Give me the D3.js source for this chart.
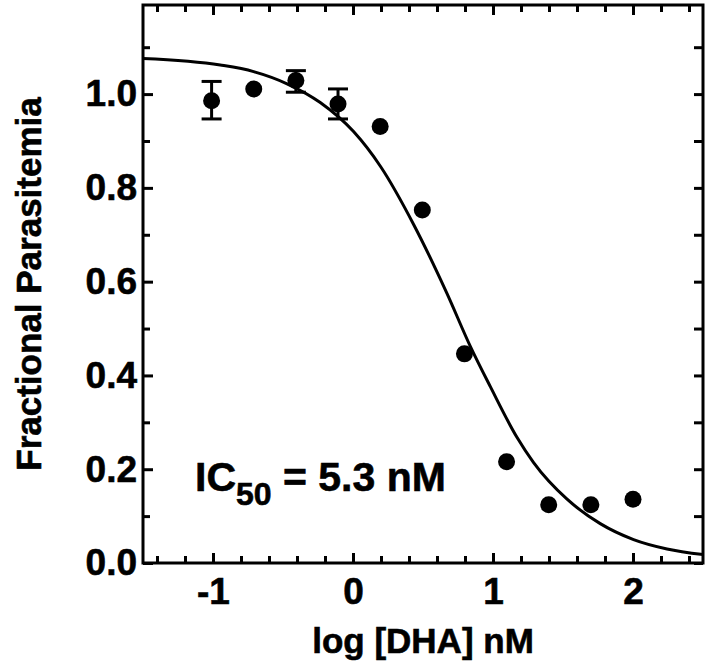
<!DOCTYPE html>
<html>
<head>
<meta charset="utf-8">
<script src="https://d3js.org/d3.v7.min.js"></script>
<style>
  body { margin: 0; background: #fff; }
  text { font-family: "Liberation Sans", Arial, sans-serif; font-weight: bold; fill: #000; stroke: #000; stroke-width: 0.6px; }
</style>
</head>
<body>
<script>
// measured points: log concentration vs fractional parasitemia
var logConc = [-1.01, -0.709, -0.408, -0.107, 0.194, 0.495, 0.796, 1.097, 1.398, 1.699, 2.0];
var parasitemia = [0.986, 1.011, 1.029, 0.979, 0.931, 0.753, 0.446, 0.216, 0.124, 0.124, 0.136];
// error bars (only some points have them), null = none
var errLow  = [0.947, null, 1.004, 0.947, null, null, null, null, null, null, null];
var errHigh = [1.027, null, 1.050, 1.011, null, null, null, null, null, null, null];

// fitted dose-response curve
var curveX = [-1.5, -0.948, -0.71, -0.471, -0.234, 0.004, 0.198, 0.433, 0.671, 0.838,
              0.981, 1.171, 1.29, 1.529, 1.766, 2.004, 2.243, 2.5];
var curveY = [1.076, 1.062, 1.048, 1.022, 0.982, 0.920, 0.845, 0.722, 0.575, 0.462,
              0.376, 0.268, 0.214, 0.136, 0.084, 0.050, 0.030, 0.018];

var xMajor = [-1, 0, 1, 2];
var yMajor = [0, 0.2, 0.4, 0.6, 0.8, 1.0];

var width = 707, height = 664;
var margin = {top: 5, right: 4, bottom: 101, left: 143};

var svg = d3.select("body").append("svg")
  .attr("width", width).attr("height", height);

var x = d3.scaleLinear().domain([-1.5, 2.5]).range([margin.left, width - margin.right]);
var y = d3.scaleLinear().domain([0, 1.19]).range([height - margin.bottom, margin.top]);

var xMinor = d3.range(-1.4, 2.5, 0.2).map(function(d) { return +d.toFixed(1); })
  .filter(function(d) { return xMajor.indexOf(d) < 0; });
var yMinor = [0.1, 0.3, 0.5, 0.7, 0.9, 1.1];

function styleAxis(g) {
  g.select(".domain").remove();
  g.selectAll(".tick line").attr("stroke", "#000").attr("stroke-width", 3);
  g.selectAll(".tick text").attr("font-family", null).attr("font-size", null)
    .style("font-size", "37px");
}

// bottom
svg.append("g").attr("transform", "translate(0," + y.range()[0] + ")")
  .call(d3.axisBottom(x).tickValues(xMajor).tickSize(-10).tickPadding(15)
    .tickFormat(function(d) { return String(d); }))
  .call(styleAxis);
svg.append("g").attr("transform", "translate(0," + y.range()[0] + ")")
  .call(d3.axisBottom(x).tickValues(xMinor).tickSize(-7).tickFormat(""))
  .call(styleAxis);
// top
svg.append("g").attr("transform", "translate(0," + y.range()[1] + ")")
  .call(d3.axisTop(x).tickValues(xMajor).tickSize(-10).tickFormat(""))
  .call(styleAxis);
svg.append("g").attr("transform", "translate(0," + y.range()[1] + ")")
  .call(d3.axisTop(x).tickValues(xMinor).tickSize(-7).tickFormat(""))
  .call(styleAxis);
// left
svg.append("g").attr("transform", "translate(" + x.range()[0] + ",0)")
  .call(d3.axisLeft(y).tickValues(yMajor).tickSize(-10).tickPadding(6)
    .tickFormat(d3.format(".1f")))
  .call(styleAxis);
svg.append("g").attr("transform", "translate(" + x.range()[0] + ",0)")
  .call(d3.axisLeft(y).tickValues(yMinor).tickSize(-7).tickFormat(""))
  .call(styleAxis);
// right
svg.append("g").attr("transform", "translate(" + x.range()[1] + ",0)")
  .call(d3.axisRight(y).tickValues(yMajor.concat(yMinor)).tickSize(-9).tickFormat(""))
  .call(styleAxis);

// frame
svg.append("rect")
  .attr("x", x.range()[0]).attr("y", y.range()[1])
  .attr("width", x.range()[1] - x.range()[0])
  .attr("height", y.range()[0] - y.range()[1])
  .attr("fill", "none").attr("stroke", "#000").attr("stroke-width", 3);

// fitted curve
var curvePts = curveX.map(function(d, i) { return [d, curveY[i]]; });
svg.append("path")
  .datum(curvePts)
  .attr("fill", "none").attr("stroke", "#000").attr("stroke-width", 3)
  .attr("d", d3.line().x(function(d) { return x(d[0]); }).y(function(d) { return y(d[1]); })
    .curve(d3.curveMonotoneX));

// error bars
var pts = logConc.map(function(d, i) {
  return {x: d, y: parasitemia[i], lo: errLow[i], hi: errHigh[i]};
});
var eb = svg.append("g").attr("stroke", "#000").attr("stroke-width", 3);
pts.filter(function(d) { return d.lo !== null; }).forEach(function(d) {
  eb.append("line").attr("x1", x(d.x)).attr("x2", x(d.x)).attr("y1", y(d.lo)).attr("y2", y(d.hi));
  eb.append("line").attr("x1", x(d.x) - 10).attr("x2", x(d.x) + 10).attr("y1", y(d.lo)).attr("y2", y(d.lo));
  eb.append("line").attr("x1", x(d.x) - 10).attr("x2", x(d.x) + 10).attr("y1", y(d.hi)).attr("y2", y(d.hi));
});

// points
svg.append("g").selectAll("circle")
  .data(pts).enter().append("circle")
  .attr("cx", function(d) { return x(d.x); })
  .attr("cy", function(d) { return y(d.y); })
  .attr("r", 8.5)
  .attr("fill", "#000");

// axis titles
svg.append("text")
  .attr("x", (x.range()[0] + x.range()[1]) / 2)
  .attr("y", 653)
  .attr("text-anchor", "middle")
  .style("font-size", "35px")
  .text("log [DHA] nM");

svg.append("text")
  .attr("transform", "translate(41," + ((y.range()[0] + y.range()[1]) / 2) + ") rotate(-90)")
  .attr("text-anchor", "middle")
  .style("font-size", "35px")
  .text("Fractional Parasitemia");

// IC50 annotation
var ic = svg.append("text")
  .attr("x", 195).attr("y", 491)
  .style("font-size", "41px");
ic.append("tspan").text("IC");
ic.append("tspan").attr("dy", 14).style("font-size", "32px").text("50");
ic.append("tspan").attr("dy", -14).text(" = 5.3 nM");
</script>
</body>
</html>
